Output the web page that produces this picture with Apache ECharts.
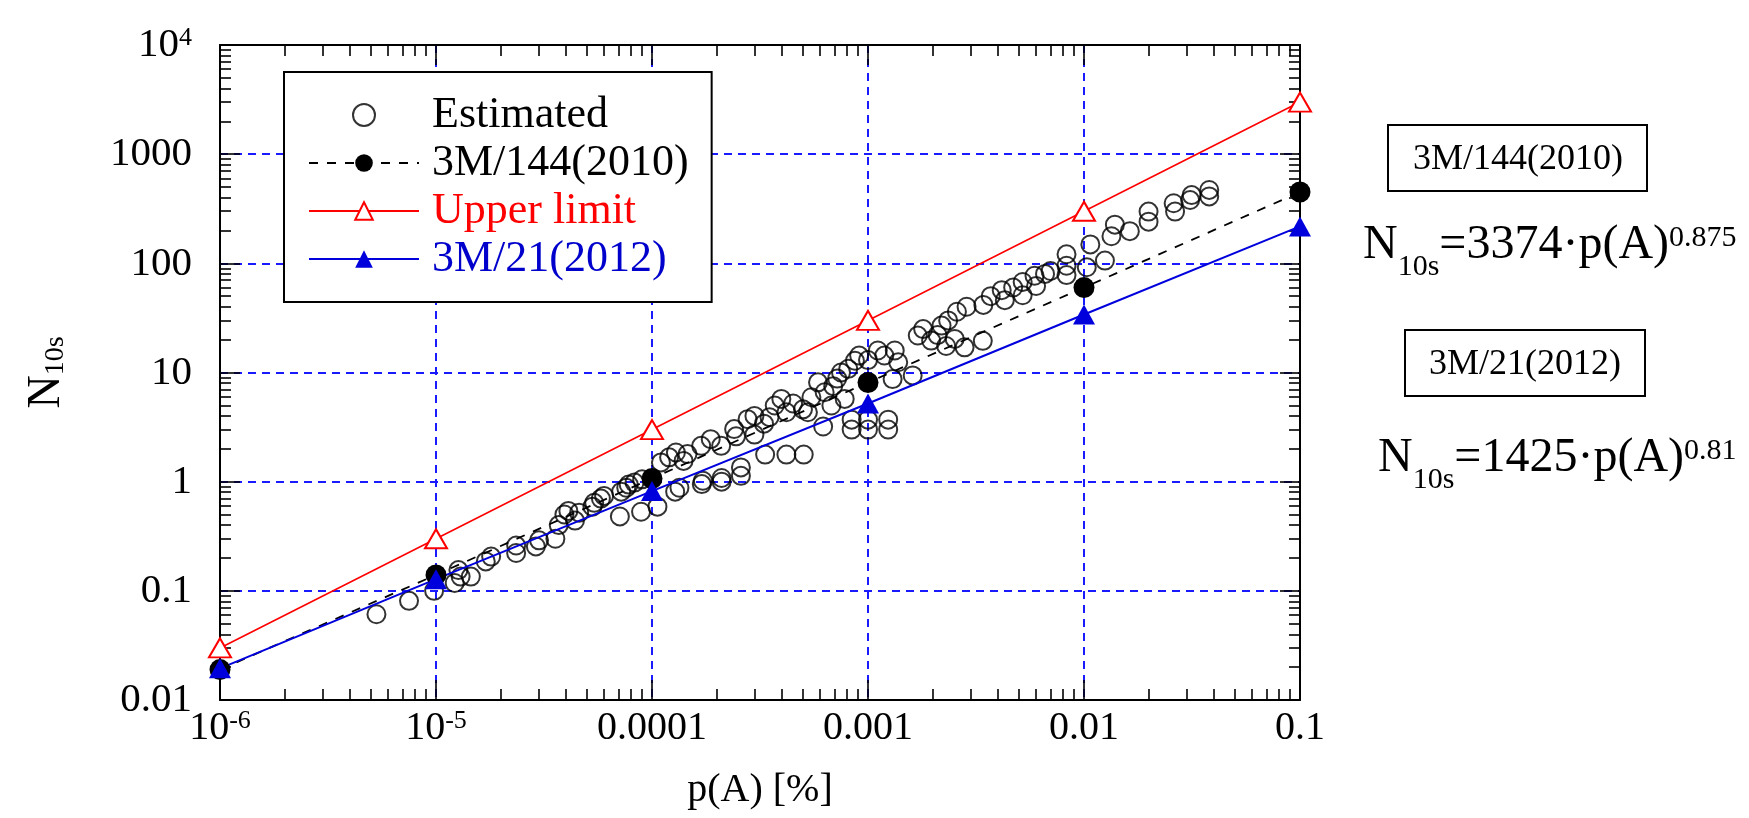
<!DOCTYPE html>
<html>
<head>
<meta charset="utf-8">
<script src="https://cdn.jsdelivr.net/npm/echarts@6.0.0/dist/echarts.min.js"></script>
<style>
  html, body { margin: 0; padding: 0; background: #fff; }
  #chart { width: 1749px; height: 818px; }
</style>
</head>
<body>
<div id="chart"></div>
<script>
const FONT = '"Liberation Serif", "Times New Roman", serif'

// x positions of the fitted / limit points, p(A) [%]
const pPoints = [1e-6, 1e-5, 1e-4, 1e-3, 1e-2, 1e-1]
const upperLimit = [0.03, 0.3, 3, 30, 300, 3000]
const m144 = [0.019, 0.14, 1.07, 8.1, 60, 450]
const m21 = [0.0195, 0.128, 0.82, 5.2, 34, 218]

const xTickLabels = ['10^-6', '10^-5', '0.0001', '0.001', '0.01', '0.1']
const yTickLabels = ['0.01', '0.1', '1', '10', '100', '1000', '10^4']

// estimated points [p(A), N10s]
const estimated = [
  [5.3e-6, 0.061], [7.5e-6, 0.081], [9.8e-6, 0.10], [1.22e-5, 0.118], [1.3e-5, 0.135],
  [1.45e-5, 0.135], [1.27e-5, 0.155], [1.7e-5, 0.186], [1.8e-5, 0.206], [2.35e-5, 0.222],
  [2.35e-5, 0.26], [2.9e-5, 0.255], [3.0e-5, 0.29], [3.57e-5, 0.30], [3.7e-5, 0.40],
  [3.93e-5, 0.50], [4.1e-5, 0.54], [4.6e-5, 0.52], [4.4e-5, 0.44], [5.3e-5, 0.59],
  [5.4e-5, 0.64], [5.8e-5, 0.70], [6.0e-5, 0.74], [7.2e-5, 0.81], [7.6e-5, 0.88],
  [7.8e-5, 0.94], [8.3e-5, 0.98], [9.0e-5, 1.05], [7.1e-5, 0.48], [8.9e-5, 0.53],
  [1.06e-4, 0.59], [1.28e-4, 0.81], [1.34e-4, 0.88], [1.7e-4, 0.95], [1.72e-4, 1.02],
  [2.1e-4, 1.0], [2.1e-4, 1.08], [2.58e-4, 1.13], [2.58e-4, 1.35], [1.1e-4, 1.5],
  [1.2e-4, 1.67], [1.29e-4, 1.85], [1.46e-4, 1.79], [1.4e-4, 1.55], [1.69e-4, 2.13],
  [1.87e-4, 2.45], [2.09e-4, 2.13], [2.4e-4, 3.03], [2.45e-4, 2.6], [2.77e-4, 3.74],
  [2.98e-4, 4.0], [2.98e-4, 2.7], [3.3e-4, 3.4], [3.5e-4, 3.9], [3.7e-4, 4.98],
  [3.97e-4, 5.73], [4.19e-4, 4.32], [4.5e-4, 5.2], [5.0e-4, 4.6], [5.27e-4, 4.32],
  [5.47e-4, 5.93], [5.87e-4, 8.13], [6.3e-4, 6.6], [6.77e-4, 4.98], [6.9e-4, 7.5],
  [7.2e-4, 8.8], [7.8e-4, 5.73], [7.5e-4, 10], [8.1e-4, 10.8], [8.7e-4, 12.8],
  [9.1e-4, 14.3], [1.0e-3, 13.0], [1.11e-3, 15.9], [1.19e-3, 14.3], [1.33e-3, 15.9],
  [1.38e-3, 12.4], [1.3e-3, 8.7], [1.61e-3, 9.4], [1.7e-3, 21.8], [1.8e-3, 25],
  [1.96e-3, 19.6], [2.1e-3, 22], [2.19e-3, 26.9], [2.35e-3, 30], [2.52e-3, 20.3],
  [2.58e-3, 36], [2.86e-3, 40], [2.3e-3, 17.5], [2.8e-3, 17], [3.4e-3, 19.5],
  [3.42e-3, 41.6], [3.7e-3, 50], [4.16e-3, 56.8], [4.3e-3, 46], [4.7e-3, 60],
  [5.2e-3, 67.5], [5.2e-3, 51], [5.9e-3, 77], [6.0e-3, 62], [6.6e-3, 80],
  [7.0e-3, 85], [8.3e-3, 121], [8.3e-3, 95], [8.3e-3, 78], [1.03e-2, 92],
  [1.07e-2, 149], [1.25e-2, 106], [1.34e-2, 177], [1.39e-2, 226], [1.63e-2, 197],
  [1.99e-2, 298], [1.99e-2, 241], [2.6e-2, 355], [2.64e-2, 298], [3.15e-2, 422],
  [3.1e-2, 380], [3.8e-2, 470], [3.8e-2, 410],
  [3.34e-4, 1.77], [4.19e-4, 1.77], [5.04e-4, 1.77], [6.2e-4, 3.2],
  [8.4e-4, 3.7], [1.0e-3, 3.7], [1.24e-3, 3.7], [8.4e-4, 3.0], [1.0e-3, 3.0], [1.24e-3, 3.0]
]

// log minor ticks 2..9 for every decade
function minorTicks(lo, hi) {
  const out = []
  for (let e = lo; e < hi; e++) for (let m = 2; m <= 9; m++) out.push(+(m * Math.pow(10, e)).toPrecision(3))
  return out
}
const xMinor = minorTicks(-6, -1)
const yMinor = minorTicks(-2, 4)

// "10^-6" -> rich text with a superscript
const rich = s => {
  const [b, e] = s.split('^')
  return e === undefined ? `{b|${b}}` : `{b|${b}}{sup|${e}}`
}
const labelRich = {
  b: { fontFamily: FONT, fontSize: 40, color: '#000', lineHeight: 40, padding: [12, 0, 0, 0], verticalAlign: 'bottom' },
  sup: { fontFamily: FONT, fontSize: 26, color: '#000', lineHeight: 28, verticalAlign: 'top' }
}
const yLabelRich = {
  b: { fontFamily: FONT, fontSize: 41, color: '#000', lineHeight: 40, padding: [0, 0, 12, 0], verticalAlign: 'top' },
  sup: { fontFamily: FONT, fontSize: 26, color: '#000', lineHeight: 26, padding: [0, 0, 26, 0], verticalAlign: 'top' }
}

const gridLine = { show: true, lineStyle: { color: '#1a1aff', width: 2, type: [8, 6] } }
const tickStyle = { color: '#000', width: 1.6 }

function xAxis(pos, minor) {
  return {
    type: 'log', logBase: 10, min: 1e-6, max: 0.1, position: pos,
    axisLine: { show: !minor, onZero: false, lineStyle: { color: '#000', width: 2 } },
    axisTick: minor
      ? { show: true, inside: true, length: 11, customValues: xMinor, lineStyle: tickStyle }
      : { show: true, inside: true, length: 20, lineStyle: tickStyle },
    axisLabel: (!minor && pos === 'bottom') ? {
      show: true, margin: 8, rich: labelRich,
      formatter: v => rich(xTickLabels[Math.round(Math.log10(v)) + 6])
    } : { show: false },
    splitLine: (!minor && pos === 'bottom') ? gridLine : { show: false },
    name: (!minor && pos === 'bottom') ? 'p(A) [%]' : '',
    nameLocation: 'middle', nameGap: 70, nameMoveOverlap: false,
    nameTextStyle: { fontFamily: FONT, fontSize: 40, color: '#000' }
  }
}

function yAxis(pos, minor) {
  return {
    type: 'log', logBase: 10, min: 0.01, max: 1e4, position: pos,
    axisLine: { show: !minor, onZero: false, lineStyle: { color: '#000', width: 2 } },
    axisTick: minor
      ? { show: true, inside: true, length: 11, customValues: yMinor, lineStyle: tickStyle }
      : { show: true, inside: true, length: 20, lineStyle: tickStyle },
    axisLabel: (!minor && pos === 'left') ? {
      show: true, margin: 28, rich: yLabelRich,
      formatter: v => rich(yTickLabels[Math.round(Math.log10(v)) + 2])
    } : { show: false },
    splitLine: (!minor && pos === 'left') ? gridLine : { show: false },
    name: (!minor && pos === 'left') ? '{n|N}{s|10s}' : '',
    nameLocation: 'middle', nameRotate: 90, nameGap: 150, nameMoveOverlap: false,
    nameTextStyle: {
      rich: {
        n: { fontFamily: FONT, fontSize: 46, color: '#000', lineHeight: 46, padding: [0, 0, 14, 0], verticalAlign: 'top' },
        s: { fontFamily: FONT, fontSize: 28, color: '#000', lineHeight: 28, verticalAlign: 'bottom' }
      }
    }
  }
}

// equation rich styles (base, subscript, superscript); line box is 84 tall
const eqRich = {
  n: { fontFamily: FONT, fontSize: 48, fontWeight: 'normal', color: '#000', lineHeight: 84, verticalAlign: 'middle' },
  s: { fontFamily: FONT, fontSize: 30, fontWeight: 'normal', color: '#000', lineHeight: 30, padding: [0, 0, 5, 0], verticalAlign: 'bottom' },
  e: { fontFamily: FONT, fontSize: 30, fontWeight: 'normal', color: '#000', lineHeight: 30, padding: [20, 0, 0, 0], verticalAlign: 'top' }
}

const chart = echarts.init(document.getElementById('chart'), null, { renderer: 'canvas' })

chart.setOption({
  backgroundColor: '#fff',
  animation: false,
  title: [
    { left: 1363, top: 203, padding: 0, text: '{n|N}{s|10s}{n|=3374·p(A)}{e|0.875}', textStyle: { fontWeight: 'normal', fontFamily: FONT, rich: eqRich } },
    { left: 1378, top: 416, padding: 0, text: '{n|N}{s|10s}{n|=1425·p(A)}{e|0.81}', textStyle: { fontWeight: 'normal', fontFamily: FONT, rich: eqRich } }
  ],
  grid: { left: 220, right: 449, top: 45, bottom: 118, containLabel: false, outerBoundsMode: 'none' },
  xAxis: [xAxis('bottom', false), xAxis('bottom', true), xAxis('top', false), xAxis('top', true)],
  yAxis: [yAxis('left', false), yAxis('left', true), yAxis('right', false), yAxis('right', true)],
  legend: {
    left: 284, top: 72, orient: 'vertical',
    padding: [21, 23, 21, 24], itemGap: 4, itemWidth: 110, itemHeight: 22,
    borderColor: '#000', borderWidth: 2, backgroundColor: '#fff',
    textStyle: { fontFamily: FONT, fontSize: 44, color: '#000', padding: [0, 0, 0, 8] },
    selectedMode: false,
    data: [
      { name: 'Estimated', textStyle: { color: '#000' } },
      { name: '3M/144(2010)', textStyle: { color: '#000' } },
      { name: 'Upper limit', textStyle: { color: '#ff0000' } },
      { name: '3M/21(2012)', textStyle: { color: '#0000cc' } }
    ]
  },
  series: [
    {
      name: 'Estimated', type: 'scatter', data: estimated,
      symbol: 'circle', symbolSize: 18,
      itemStyle: { color: 'rgba(0,0,0,0)', borderColor: '#000', borderWidth: 2 }
    },
    {
      name: '3M/144(2010)', type: 'line', data: pPoints.map((p, i) => [p, m144[i]]),
      symbol: 'circle', symbolSize: 21,
      lineStyle: { color: '#000', width: 1.8, type: [9, 9] },
      itemStyle: { color: '#000' }
    },
    {
      name: 'Upper limit', type: 'line', data: pPoints.map((p, i) => [p, upperLimit[i]]),
      symbol: 'emptyTriangle', symbolSize: [22, 19],
      lineStyle: { color: '#ff0000', width: 1.6 },
      itemStyle: { color: '#ff0000', borderWidth: 1.6 }
    },
    {
      name: '3M/21(2012)', type: 'line', data: pPoints.map((p, i) => [p, m21[i]]),
      symbol: 'triangle', symbolSize: [22, 20],
      lineStyle: { color: '#0000dd', width: 2 },
      itemStyle: { color: '#0000dd' }
    }
  ],
  graphic: [
    { type: 'rect', shape: { x: 1388, y: 125, width: 259, height: 66 }, style: { fill: 'none', stroke: '#000', lineWidth: 2 } },
    { type: 'text', x: 1518, y: 160, style: { text: '3M/144(2010)', fontFamily: FONT, fontSize: 36, fill: '#000', align: 'center', verticalAlign: 'middle' } },
    { type: 'rect', shape: { x: 1405, y: 330, width: 240, height: 66 }, style: { fill: 'none', stroke: '#000', lineWidth: 2 } },
    { type: 'text', x: 1525, y: 365, style: { text: '3M/21(2012)', fontFamily: FONT, fontSize: 36, fill: '#000', align: 'center', verticalAlign: 'middle' } }
  ]
})
</script>
</body>
</html>
